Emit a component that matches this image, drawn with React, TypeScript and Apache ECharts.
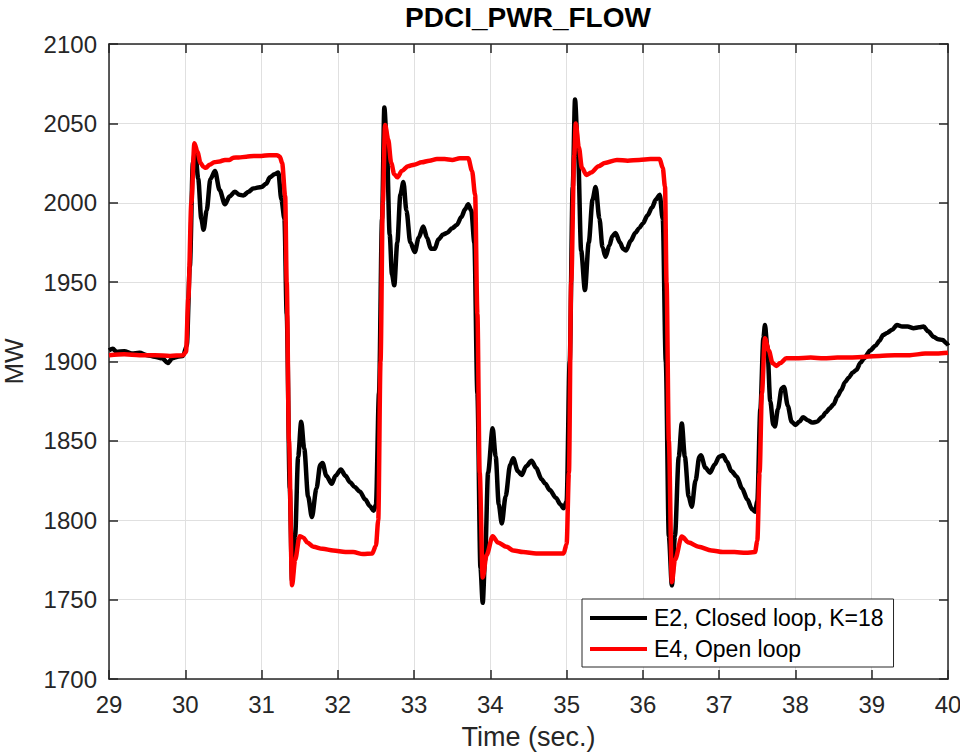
import React, { useEffect, useRef } from "react";
import * as echarts from "echarts";

const xTicks = [29, 30, 31, 32, 33, 34, 35, 36, 37, 38, 39, 40];
const yTicks = [1700, 1750, 1800, 1850, 1900, 1950, 2000, 2050, 2100];

const seriesNames = ["E2, Closed loop, K=18", "E4, Open loop"];

// E2 closed loop (black)
const e2Time = [
  29.0, 29.05, 29.1, 29.2, 29.3, 29.4, 29.5, 29.6, 29.7, 29.77, 29.83, 29.9, 29.97,
  30.02, 30.06, 30.1, 30.13, 30.17, 30.21, 30.24, 30.28, 30.33, 30.39, 30.45, 30.52,
  30.58, 30.65, 30.71, 30.76, 30.83, 30.89, 31.0, 31.06, 31.11, 31.17, 31.22, 31.26,
  31.3, 31.33, 31.37, 31.4, 31.44, 31.48, 31.52, 31.56, 31.61, 31.66, 31.72, 31.77,
  31.8, 31.85, 31.92, 31.97, 32.04, 32.1, 32.16, 32.22, 32.29, 32.36, 32.42, 32.47,
  32.5, 32.54, 32.58, 32.61, 32.64, 32.68, 32.71, 32.74, 32.78, 32.82, 32.86, 32.9,
  32.95, 33.01, 33.06, 33.12, 33.17, 33.22, 33.27, 33.32, 33.38, 33.43, 33.5, 33.56,
  33.62, 33.67, 33.71, 33.75, 33.79, 33.83, 33.87, 33.9, 33.93, 33.97, 34.03, 34.07,
  34.11, 34.15, 34.2, 34.26, 34.3, 34.36, 34.41, 34.47, 34.54, 34.6, 34.67, 34.72,
  34.78, 34.86, 34.92, 34.96, 35.0, 35.04, 35.08, 35.11, 35.15, 35.19, 35.24, 35.29,
  35.34, 35.38, 35.43, 35.47, 35.51, 35.56, 35.6, 35.64, 35.7, 35.74, 35.78, 35.84,
  35.9, 35.95, 36.0, 36.06, 36.12, 36.17, 36.22, 36.26, 36.3, 36.34, 36.38, 36.42,
  36.47, 36.51, 36.55, 36.6, 36.64, 36.69, 36.74, 36.76, 36.82, 36.88, 36.94, 37.0,
  37.05, 37.1, 37.16, 37.23, 37.3, 37.37, 37.43, 37.47, 37.5, 37.54, 37.58, 37.6,
  37.63, 37.67, 37.71, 37.73, 37.77, 37.82, 37.85, 37.9, 37.95, 38.0, 38.05, 38.1,
  38.16, 38.22, 38.28, 38.35, 38.4, 38.45, 38.5, 38.55, 38.6, 38.65, 38.7, 38.75,
  38.8, 38.85, 38.9, 38.98, 39.05, 39.1, 39.15, 39.2, 39.27, 39.33, 39.4, 39.47,
  39.55, 39.62, 39.68, 39.74, 39.81, 39.87, 39.93, 39.98, 40.0,
];
const e2Value = [
  1907, 1908, 1906, 1906.5, 1905, 1905.5, 1904, 1903, 1902, 1899, 1902, 1903, 1903.5,
  1910, 1960, 2025, 2033, 2015, 1990, 1983, 1995, 2015, 2020, 2008, 1999,
  2004, 2007, 2005, 2004.5, 2007, 2009, 2010, 2012, 2016, 2018, 2019, 2002,
  1990, 1930, 1820, 1762, 1790, 1840, 1862, 1845, 1815, 1802, 1820, 1835,
  1836, 1828, 1823, 1828, 1832, 1828, 1824, 1821, 1818, 1813, 1809, 1806,
  1810, 1880, 1990, 2060, 2040, 1980, 1955, 1948, 1975, 2005, 2013, 1995,
  1975, 1969, 1978, 1985, 1978, 1971, 1971, 1977, 1980, 1981, 1984, 1986,
  1991, 1996, 1999, 1995, 1975, 1880, 1770, 1748, 1775, 1830, 1858, 1840,
  1810, 1798, 1815, 1835, 1839, 1831, 1828.5, 1834, 1837.5, 1833, 1826, 1823,
  1819, 1814, 1810, 1807.5, 1812, 1900, 2010, 2065, 2030, 1970, 1945, 1975,
  2002, 2010, 1990, 1972, 1966, 1973, 1979, 1981, 1975, 1971, 1970, 1976,
  1981, 1984, 1987, 1992, 1997, 2002, 2005, 1990, 1900, 1790, 1759, 1790,
  1840, 1861, 1840, 1815, 1808.5, 1825, 1840, 1841, 1833, 1830, 1835, 1840,
  1841, 1837, 1831, 1827.5, 1820, 1813, 1807, 1805.4, 1812, 1870, 1915, 1923,
  1910, 1875, 1860, 1859, 1870, 1883, 1884, 1872, 1862, 1860, 1862, 1864.9,
  1863, 1861.5, 1862, 1865, 1868, 1870.5, 1873, 1878, 1882, 1887, 1890, 1893,
  1894.7, 1899, 1902, 1907, 1910, 1913, 1916.7, 1918, 1920, 1923, 1922, 1922,
  1921, 1921.5, 1922, 1919, 1915.6, 1914, 1913.5, 1911.5, 1910,
];

// E4 open loop (red)
const e4Time = [
  29.0, 29.2, 29.4, 29.6, 29.8, 29.97, 30.01, 30.04, 30.08, 30.12, 30.16, 30.2, 30.24,
  30.27, 30.32, 30.38, 30.45, 30.52, 30.58, 30.63, 30.7, 30.8, 30.9, 31.0, 31.1, 31.2,
  31.24, 31.27, 31.31, 31.33, 31.36, 31.4, 31.44, 31.5, 31.55, 31.6, 31.68, 31.8,
  31.94, 32.1, 32.2, 32.33, 32.45, 32.5, 32.53, 32.56, 32.59, 32.62, 32.66, 32.7,
  32.74, 32.78, 32.84, 32.92, 33.0, 33.1, 33.2, 33.3, 33.4, 33.5, 33.6, 33.71, 33.76,
  33.8, 33.83, 33.86, 33.9, 33.95, 34.03, 34.1, 34.21, 34.3, 34.43, 34.6, 34.78,
  34.96, 35.0, 35.03, 35.06, 35.1, 35.12, 35.16, 35.2, 35.26, 35.32, 35.42, 35.5,
  35.66, 35.8, 35.95, 36.1, 36.22, 36.26, 36.29, 36.31, 36.34, 36.38, 36.42, 36.51,
  36.6, 36.73, 36.9, 37.05, 37.2, 37.35, 37.47, 37.5, 37.53, 37.56, 37.6, 37.65, 37.7,
  37.75, 37.8, 37.88, 38.0, 38.2, 38.37, 38.55, 38.7, 38.93, 39.1, 39.3, 39.5, 39.7,
  39.85, 40.0,
];
const e4Value = [
  1904, 1904.5, 1904, 1904, 1903.5, 1904, 1906, 1940, 2000, 2037.5, 2032, 2025, 2022.5,
  2022, 2024, 2025.5, 2026, 2027, 2027, 2028.4, 2028.5, 2029, 2029.5, 2029.5, 2030, 2030,
  2029, 2025, 2004, 1950, 1850, 1759, 1775, 1790, 1789, 1786, 1783.3, 1782,
  1781, 1780, 1780, 1778.7, 1779, 1784, 1800, 1900, 2000, 2049, 2040, 2025,
  2018, 2016, 2020, 2023, 2024, 2025.5, 2026.5, 2027.5, 2027.5, 2027, 2028, 2028, 2020,
  2005, 1930, 1830, 1764, 1778, 1790, 1786, 1783.3, 1781, 1780, 1779, 1779,
  1779, 1785, 1830, 1950, 2030, 2050, 2035, 2022, 2017.5, 2019, 2023, 2025,
  2027, 2026.5, 2027, 2027.5, 2027.5, 2022, 2010, 1950, 1850, 1761, 1775, 1789.7,
  1786, 1783.3, 1781, 1780, 1780, 1779.5, 1780, 1787, 1830, 1880, 1914.6, 1907, 1899,
  1897.2, 1899, 1902, 1902, 1902.5, 1902, 1902.5, 1902.5, 1903, 1903.5, 1904, 1904, 1905,
  1905, 1905.5,
];

const FONT = "'Liberation Sans', Arial, Helvetica, sans-serif";
const AX = "#262626";

export default function App() {
  const ref = useRef<HTMLDivElement>(null);
  useEffect(() => {
    if (!ref.current) return;
    const chart = echarts.init(ref.current, undefined, { renderer: "svg" });
    const e2 = e2Time.map((t, i) => [t, e2Value[i]]);
    const e4 = e4Time.map((t, i) => [t, e4Value[i]]);
    const xMin = xTicks[0];
    const xMax = xTicks[xTicks.length - 1];
    const yMin = yTicks[0];
    const yMax = yTicks[yTicks.length - 1];
    const baseX = {
      type: "value" as const,
      min: xMin,
      max: xMax,
      interval: 1,
    };
    const baseY = {
      type: "value" as const,
      min: yMin,
      max: yMax,
      interval: 50,
    };
    chart.setOption({
      animation: false,
      backgroundColor: "#ffffff",
      title: {
        text: "PDCI_PWR_FLOW",
        left: 528,
        textAlign: "center",
        top: 3,
        padding: 0,
        textStyle: { fontFamily: FONT, fontSize: 28, fontWeight: "bold", color: "#000" },
      },
      grid: {
        left: 109,
        right: 12,
        top: 44,
        bottom: 75,
        containLabel: false,
        outerBoundsMode: "none",
      },
      legend: {
        orient: "vertical",
        left: 582,
        top: 599,
        padding: [6, 10, 5, 8],
        itemGap: 5,
        itemWidth: 57,
        itemHeight: 4,
        icon: "rect",
        backgroundColor: "#ffffff",
        borderColor: AX,
        borderWidth: 1,
        borderRadius: 0,
        data: seriesNames,
        textStyle: { fontFamily: FONT, fontSize: 23, color: "#000", lineHeight: 26, padding: [0, 0, 0, 2] },
      },
      xAxis: [
        {
          ...baseX,
          position: "bottom",
          name: "Time (sec.)",
          nameLocation: "middle",
          nameGap: 44,
          nameTextStyle: { fontFamily: FONT, fontSize: 27, color: AX },
          axisLine: { show: true, lineStyle: { color: AX, width: 1.5 } },
          axisTick: { show: true, inside: true, length: 9, lineStyle: { color: AX, width: 1.5 } },
          axisLabel: {
            margin: 13,
            fontFamily: FONT,
            fontSize: 24,
            color: AX,
            showMaxLabel: true,
            hideOverlap: false,
            formatter: (v: number) => String(v),
          },
          splitLine: { show: true, lineStyle: { color: "#e0e0e0", width: 1 } },
        },
        {
          ...baseX,
          position: "top",
          axisLine: { show: true, lineStyle: { color: AX, width: 1.5 } },
          axisTick: { show: true, inside: true, length: 9, lineStyle: { color: AX, width: 1.5 } },
          axisLabel: { show: false },
          splitLine: { show: false },
        },
      ],
      yAxis: [
        {
          ...baseY,
          position: "left",
          name: "MW",
          nameLocation: "middle",
          nameGap: 82,
          nameTextStyle: { fontFamily: FONT, fontSize: 26, color: AX },
          axisLine: { show: true, lineStyle: { color: AX, width: 1.5 } },
          axisTick: { show: true, inside: true, length: 9, lineStyle: { color: AX, width: 1.5 } },
          axisLabel: { margin: 12, fontFamily: FONT, fontSize: 24, color: AX, formatter: (v: number) => String(v) },
          splitLine: { show: true, lineStyle: { color: "#e0e0e0", width: 1 } },
        },
        {
          ...baseY,
          position: "right",
          axisLine: { show: true, lineStyle: { color: AX, width: 1.5 } },
          axisTick: { show: true, inside: true, length: 9, lineStyle: { color: AX, width: 1.5 } },
          axisLabel: { show: false },
          splitLine: { show: false },
        },
      ],
      series: [
        {
          name: seriesNames[0],
          type: "line",
          data: e2,
          xAxisIndex: 0,
          yAxisIndex: 0,
          showSymbol: false,
          smooth: 0.3,
          smoothMonotone: "x",
          lineStyle: { color: "#000000", width: 4.5 },
          itemStyle: { color: "#000000" },
          z: 2,
        },
        {
          name: seriesNames[1],
          type: "line",
          data: e4,
          xAxisIndex: 0,
          yAxisIndex: 0,
          showSymbol: false,
          smooth: 0.3,
          smoothMonotone: "x",
          lineStyle: { color: "#ff0000", width: 4.5 },
          itemStyle: { color: "#ff0000" },
          z: 3,
        },
      ],
    });
    return () => chart.dispose();
  }, []);
  return (
    <div
      ref={ref}
      style={{ position: "absolute", left: 0, top: 0, width: 960, height: 754, overflow: "visible" }}
    />
  );
}
